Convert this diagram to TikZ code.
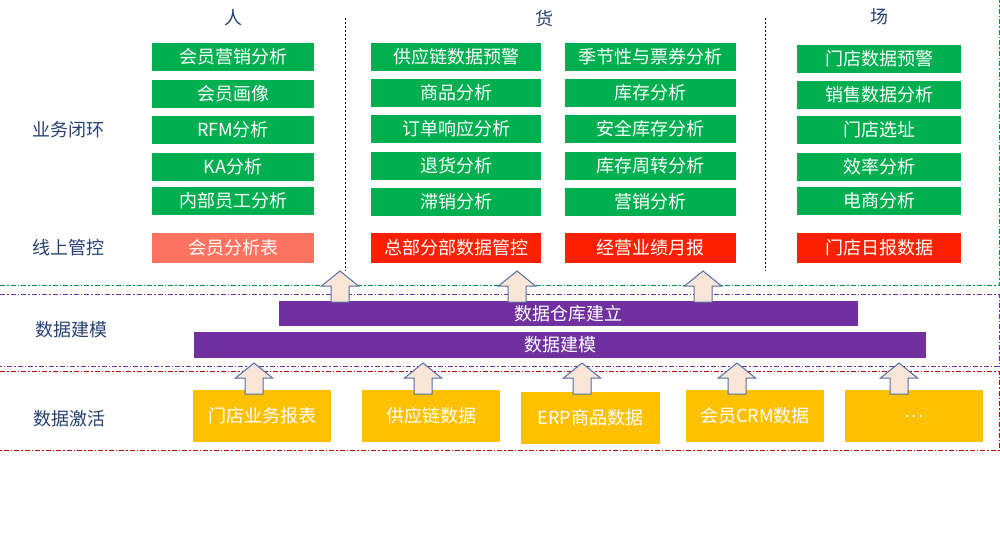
\documentclass[tikz,border=0pt]{standalone}
\usepackage{fontspec}
\setmainfont{Noto Sans CJK SC}
\definecolor{boxgreen}{RGB}{0,176,80}
\definecolor{boxred}{RGB}{255,32,0}
\definecolor{boxpink}{RGB}{255,115,96}
\definecolor{barpurple}{RGB}{112,48,160}
\definecolor{boxyellow}{RGB}{255,192,0}
\definecolor{labelblue}{RGB}{38,64,115}
\definecolor{arrowfill}{RGB}{251,229,214}
\definecolor{arrowline}{RGB}{80,110,165}
\definecolor{linegreen}{RGB}{0,150,70}
\definecolor{linepurple}{RGB}{112,48,160}
\definecolor{linered}{RGB}{192,0,0}

\tikzstyle{box}=[inner sep=0pt,text=white,font=\fontsize{18}{20}\selectfont]
\tikzstyle{greenbox}=[box,fill=boxgreen,minimum height=28pt]
\tikzstyle{redbox}=[box,fill=boxred,minimum height=30pt]
\tikzstyle{bar}=[box,fill=barpurple,minimum height=25pt]
\tikzstyle{srcbox}=[box,fill=boxyellow,minimum width=138pt,minimum height=52pt]
\tikzstyle{rowlabel}=[text=labelblue,font=\fontsize{18}{20}\selectfont]
\tikzstyle{zone}=[line width=1pt,dash pattern=on 5pt off 2pt on 1.5pt off 2pt]
\tikzstyle{divider}=[line width=1pt,black,dash pattern=on 2pt off 2pt]
\tikzstyle{bigarrow}=[draw=arrowline,fill=arrowfill,line width=1pt,line join=miter]

\begin{document}
\begin{tikzpicture}[x=1pt,y=-1pt]
  \useasboundingbox (0,0) rectangle (1000,542);
  % headers and row labels
  \node[rowlabel] (ren) at (233,18) {人};
  \node[rowlabel] (huo) at (544,19) {货};
  \node[rowlabel] (chang) at (879,17) {场};
  \node[rowlabel] (loop) at (68,130) {业务闭环};
  \node[rowlabel] (online) at (68,248) {线上管控};
  \node[rowlabel] (model) at (71,330) {数据建模};
  \node[rowlabel] (activate) at (69,419) {数据激活};

  % zones and column dividers
  \draw[zone,linegreen] (0,285) -- (999,285) -- (999,0);
  \draw[zone,linepurple] (0,294) -- (999,294) -- (999,366) -- (0,366);
  \draw[zone,linered] (0,371) -- (999,371) -- (999,450) -- (0,450);
  \draw[divider] (345,18) -- (345,271);
  \draw[divider] (765,18) -- (765,271);

  % green analysis boxes
  \foreach \y/\txt [count=\i] in {57/会员营销分析, 94/会员画像, 130/RFM分析, 167/KA分析, 201/内部员工分析}
    \node[greenbox,minimum width=162pt] (ren\i) at (233,\y) {\txt};
  \foreach \y/\txt [count=\i] in {57/供应链数据预警, 93/商品分析, 129/订单响应分析, 165.5/退货分析, 201.5/滞销分析}
    \node[greenbox,minimum width=170pt] (huoa\i) at (456,\y) {\txt};
  \foreach \y/\txt [count=\i] in {57/季节性与票券分析, 93/库存分析, 129/安全库存分析, 165.5/库存周转分析, 201.5/营销分析}
    \node[greenbox,minimum width=171pt] (huob\i) at (650.5,\y) {\txt};
  \foreach \y/\txt [count=\i] in {59/门店数据预警, 95/销售数据分析, 130/门店选址, 167/效率分析, 200.5/电商分析}
    \node[greenbox,minimum width=164pt] (chang\i) at (879,\y) {\txt};

  % online control row
  \node[redbox,fill=boxpink,minimum width=162pt] (renctl) at (233,248) {会员分析表};
  \node[redbox,minimum width=170pt] (huoactl) at (456,248) {总部分部数据管控};
  \node[redbox,minimum width=171pt] (huobctl) at (650.5,248) {经营业绩月报};
  \node[redbox,minimum width=164pt] (changctl) at (879,248) {门店日报数据};

  % modelling bars
  \node[bar,minimum width=579pt] (warehouse) at (568.5,313.5) {数据仓库建立};
  \node[bar,minimum width=732pt,minimum height=26pt] (modelbar) at (560,345) {数据建模};

  % data sources
  \node[srcbox] (src1) at (262,416) {门店业务报表};
  \node[srcbox] (src2) at (431,416) {供应链数据};
  \node[srcbox,minimum width=139pt] (src3) at (590.5,418) {ERP商品数据};
  \node[srcbox] (src4) at (755,416) {会员CRM数据};
  \node[srcbox] (src5) at (914,416) {…};

  % block arrows
  \foreach \x in {340,517,703}
    \draw[bigarrow] (\x,271) -- (\x+18.5,286) -- (\x+9,286) -- (\x+9,302)
      -- (\x-9,302) -- (\x-9,286) -- (\x-18.5,286) -- cycle;
  \foreach \x in {254,423,582,737,899}
    \draw[bigarrow] (\x,363) -- (\x+18.5,378) -- (\x+9,378) -- (\x+9,394)
      -- (\x-9,394) -- (\x-9,378) -- (\x-18.5,378) -- cycle;
\end{tikzpicture}
\end{document}
